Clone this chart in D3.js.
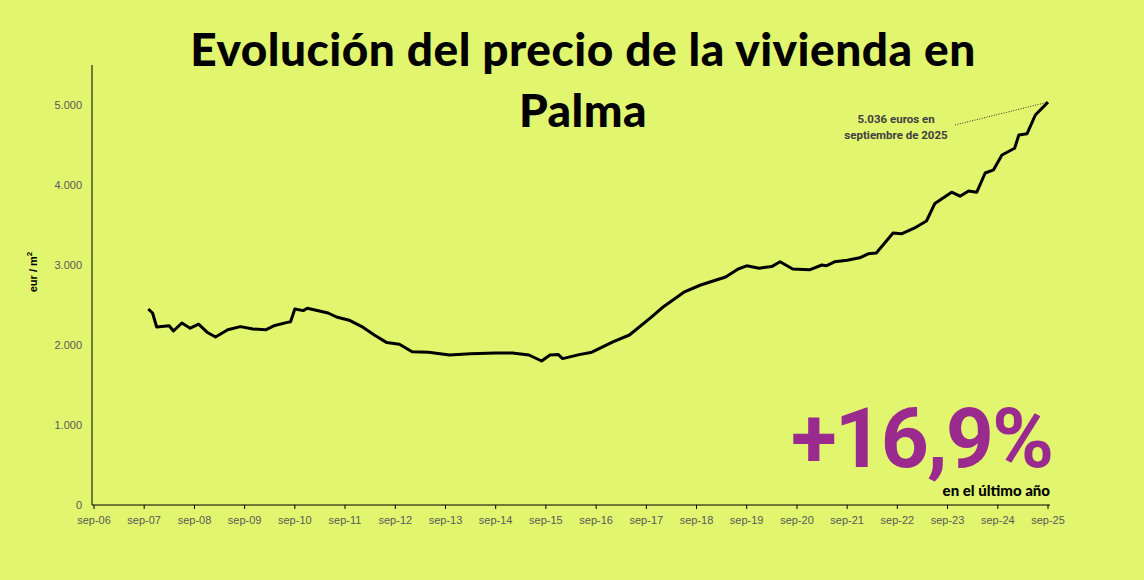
<!DOCTYPE html>
<html><head><meta charset="utf-8">
<script src="https://cdn.jsdelivr.net/npm/d3@7"></script>
<style>body{margin:0;background:#e1f56f}svg{display:block}</style>
</head><body><svg id="c" width="1144" height="580"></svg>
<script>
const dates=["2007-10","2007-11","2007-12","2008-03","2008-04","2008-06","2008-08","2008-10","2008-12","2009-02","2009-05","2009-08","2009-11","2010-02","2010-04","2010-07","2010-08","2010-09","2010-11","2010-12","2011-05","2011-07","2011-10","2012-01","2012-04","2012-07","2012-10","2013-01","2013-05","2013-10","2014-03","2014-09","2015-01","2015-05","2015-08","2015-10","2015-12","2016-01","2016-05","2016-08","2017-01","2017-05","2017-10","2018-01","2018-06","2018-10","2019-04","2019-07","2019-09","2019-12","2020-03","2020-05","2020-08","2020-12","2021-03","2021-04","2021-06","2021-09","2021-12","2022-02","2022-04","2022-08","2022-10","2023-01","2023-04","2023-06","2023-10","2023-12","2024-02","2024-04","2024-06","2024-08","2024-10","2025-01","2025-02","2025-04","2025-06","2025-09"];
const prices=[2450,2400,2225,2240,2175,2275,2210,2260,2160,2100,2190,2230,2200,2190,2240,2280,2290,2450,2430,2460,2400,2350,2310,2230,2125,2030,2010,1915,1910,1875,1890,1900,1900,1875,1800,1875,1880,1830,1880,1910,2040,2125,2340,2475,2660,2750,2850,2950,2990,2960,2980,3040,2950,2940,3000,2990,3040,3060,3090,3140,3150,3400,3390,3460,3550,3770,3910,3860,3925,3910,4150,4190,4375,4460,4625,4640,4875,5036];
const yTicks=[0,1000,2000,3000,4000,5000];
const xTickYears=d3.range(2006,2026);

const svg=d3.select("#c");
const parse=d3.timeParse("%Y-%m");
const x=d3.scaleTime().domain([parse("2006-09"),parse("2025-09")]).range([94,1048]);
const y=d3.scaleLinear().domain([0,5500]).range([505,65]);
const fmt=d=>d3.format(",")(d).replace(/,/g,".");

svg.append("line").attr("x1",92).attr("x2",92).attr("y1",65).attr("y2",505).attr("stroke","#000");
svg.append("line").attr("x1",92).attr("x2",1050).attr("y1",505).attr("y2",505).attr("stroke","#000");
svg.selectAll(".yt").data(yTicks).join("text").attr("x",82).attr("y",d=>y(d)+4)
 .attr("text-anchor","end").attr("font-family","Liberation Sans, Arial").attr("font-size",11).attr("fill","#595959").text(fmt);
svg.selectAll(".xt").data(xTickYears).join("text").attr("x",d=>x(parse(d+"-09"))).attr("y",524)
 .attr("text-anchor","middle").attr("font-family","Liberation Sans, Arial").attr("font-size",11).attr("fill","#595959")
 .text(d=>"sep-"+String(d%100).padStart(2,"0"));
svg.selectAll(".xk").data(xTickYears).join("line").attr("x1",d=>x(parse(d+"-09"))).attr("x2",d=>x(parse(d+"-09")))
 .attr("y1",505).attr("y2",509).attr("stroke","#000");

const yl=svg.append("text").attr("transform","translate(37,272) rotate(-90)").attr("text-anchor","middle")
 .attr("font-family","Liberation Sans, Arial").attr("font-size",11).attr("font-weight","bold").attr("fill","#000");
yl.append("tspan").text("eur /  m");
yl.append("tspan").attr("dy",-5).attr("font-size",8).text("2");

const data=dates.map((d,i)=>({d:parse(d),v:prices[i]}));
svg.append("path").datum(data).attr("fill","none").attr("stroke","#000").attr("stroke-width",3)
 .attr("stroke-linejoin","round").attr("d",d3.line().x(d=>x(d.d)).y(d=>y(d.v)));

const t=svg.append("text").attr("text-anchor","middle").attr("font-family","Lato").attr("font-weight",900)
 .attr("font-size",46).attr("letter-spacing",0.5).attr("fill","#000");
t.append("tspan").attr("x",583).attr("y",66).text("Evolución del precio de la vivienda en");
t.append("tspan").attr("x",583).attr("y",127).text("Palma");

const last=data[data.length-1];
svg.append("line").attr("x1",955).attr("y1",125).attr("x2",x(last.d)).attr("y2",y(last.v))
 .attr("stroke","#333").attr("stroke-width",1).attr("stroke-dasharray","1,1.5");
const a=svg.append("text").attr("text-anchor","middle").attr("font-family","Roboto").attr("font-weight","bold")
 .attr("font-size",11.5).attr("fill","#404040");
a.append("tspan").attr("x",896).attr("y",123).text("5.036 euros en");
a.append("tspan").attr("x",896).attr("y",139).text("septiembre de 2025");

svg.append("text").attr("x",1052).attr("y",467).attr("text-anchor","end").attr("font-family","Roboto")
 .attr("font-weight","bold").attr("font-size",84).attr("fill","#9b2a8f").attr("letter-spacing",-2).text("+16,9%");
svg.append("text").attr("x",1050).attr("y",496).attr("text-anchor","end").attr("font-family","Lato")
 .attr("font-weight",900).attr("font-size",15).attr("fill","#000").text("en el último año");
</script></body></html>
